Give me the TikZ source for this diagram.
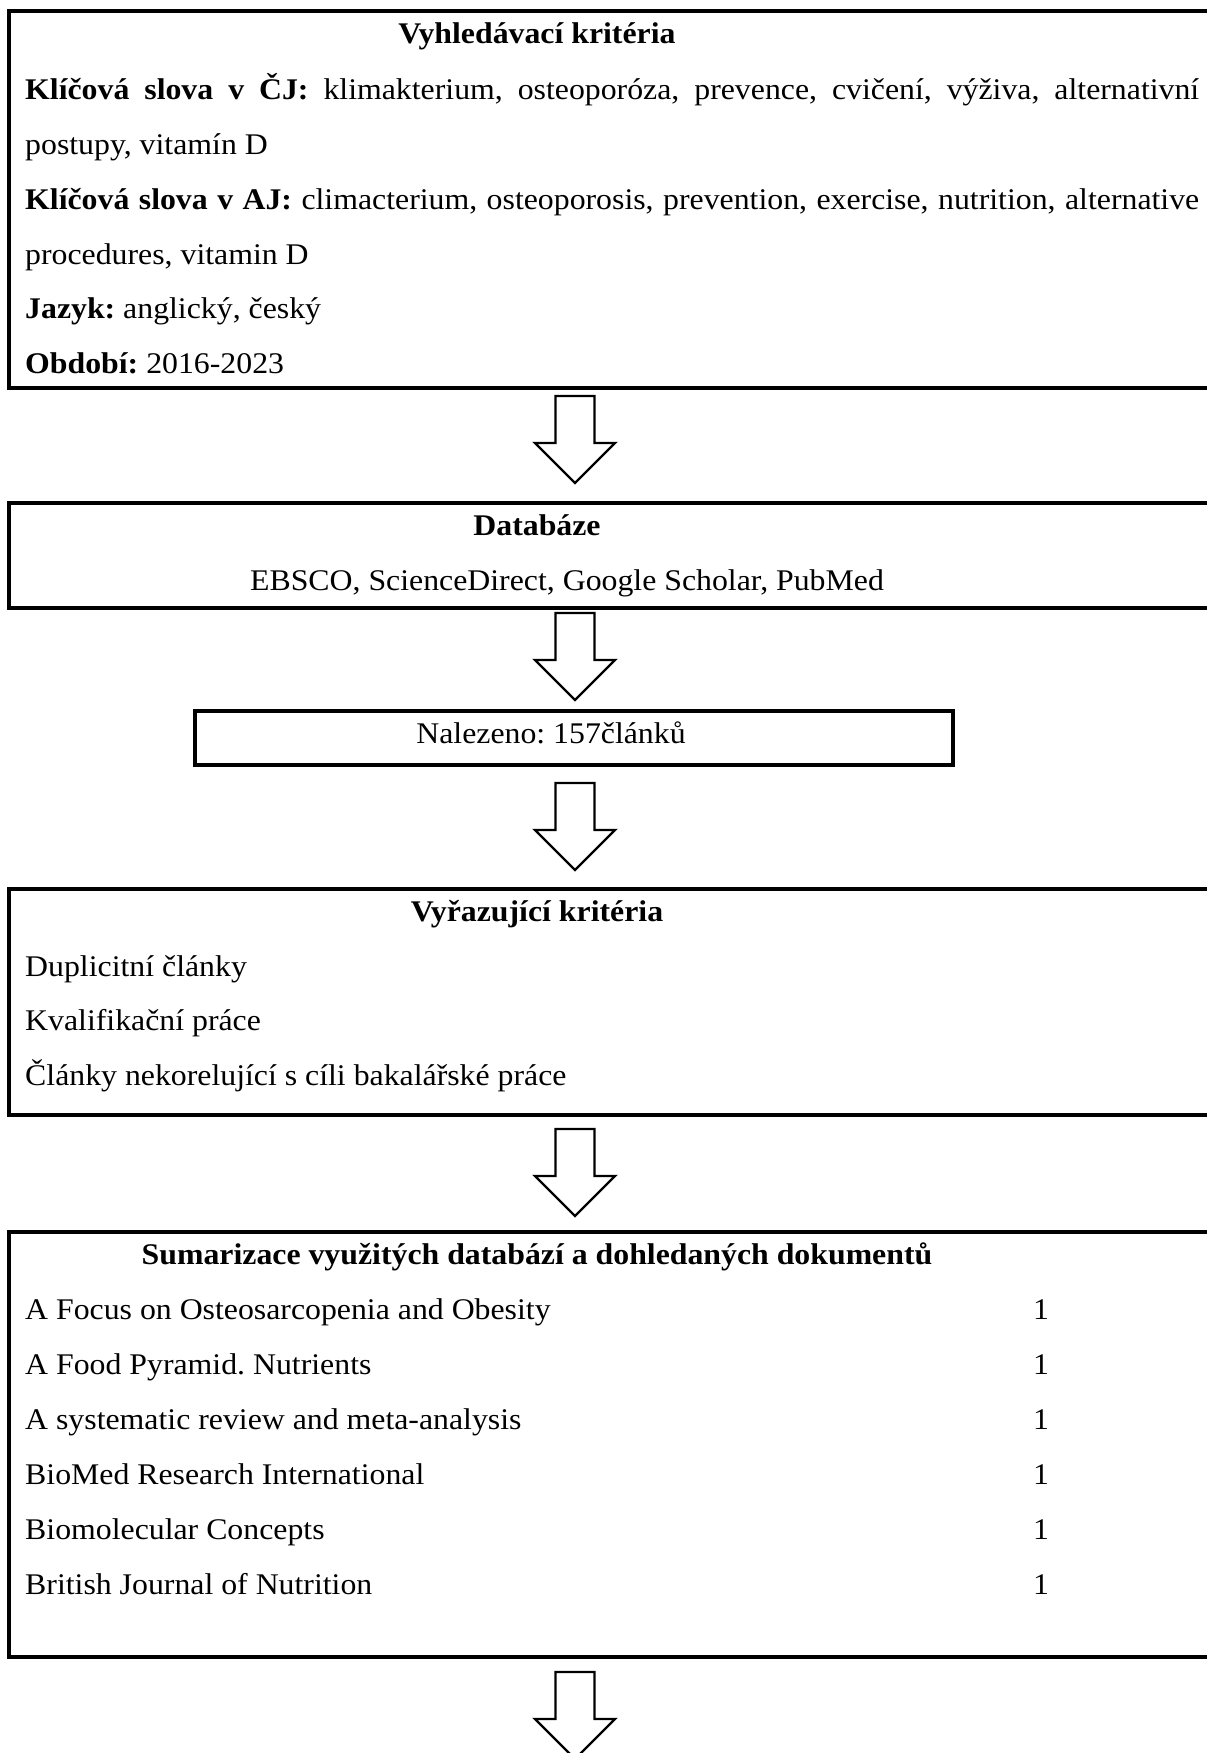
\documentclass[tikz,border=0pt]{standalone}
\usepackage{fontspec}
\setmainfont{Liberation Serif}[FakeStretch=1.06]
\frenchspacing
\tikzset{
  box/.style={draw, line width=3.3pt, outer sep=0pt, inner sep=0pt, anchor=north west},
  txt/.style={anchor=base west, inner sep=0pt, font=\fontsize{30}{36}\selectfont},
  ctxt/.style={anchor=base, inner sep=0pt, font=\fontsize{30}{36}\selectfont},
  ttl/.style={anchor=base, inner sep=0pt, font=\fontsize{30}{36}\selectfont\bfseries},
  blockarrow/.pic={\draw[line width=2.4pt, line join=miter]
     (-19.5,0) -- (19.5,0) -- (19.5,47) -- (40,47) -- (0,87) -- (-40,47) -- (-19.5,47) -- cycle;}
}
\begin{document}
\begin{tikzpicture}[x=1pt,y=-1pt]
\useasboundingbox (0,0) rectangle (1207,1753);
\clip (0,0) rectangle (1207,1753);
% box 1
\node[box, minimum width=1230pt, minimum height=377pt] (crit) at (9,11) {};
\node[ttl] (critT) at (537,43.5) {Vyhledávací kritéria};
\node[txt] (c1) at (25,99.5) {\makebox[1174pt][s]{\textbf{Klíčová slova v ČJ:} klimakterium, osteoporóza, prevence, cvičení, výživa, alternativní}};
\node[txt] (c2) at (25,154) {postupy, vitamín D};
\node[txt] (c3) at (25,209) {\makebox[1174pt][s]{\textbf{Klíčová slova v AJ:} climacterium, osteoporosis, prevention, exercise, nutrition, alternative}};
\node[txt] (c4) at (25,264) {procedures, vitamin D};
\node[txt] (c5) at (25,318.5) {\textbf{Jazyk:} anglický, český};
\node[txt] (c6) at (25,373) {\textbf{Období:} 2016-2023};
\pic at (575,396) {blockarrow};
% box 2
\node[box, minimum width=1230pt, minimum height=105pt] (db) at (9,503) {};
\node[ttl] (dbT) at (537,535) {Databáze};
\node[ctxt] (db1) at (567,590) {EBSCO, ScienceDirect, Google Scholar, PubMed};
\pic at (575,613) {blockarrow};
% box 3
\node[box, minimum width=758pt, minimum height=54pt] (found) at (195,711) {};
\node[ctxt] (foundT) at (551,743) {Nalezeno: 157článků};
\pic at (575,783) {blockarrow};
% box 4
\node[box, minimum width=1230pt, minimum height=226pt] (excl) at (9,889) {};
\node[ttl] (exclT) at (537,921) {Vyřazující kritéria};
\node[txt] (e1) at (25,976) {Duplicitní články};
\node[txt] (e2) at (25,1030.5) {Kvalifikační práce};
\node[txt] (e3) at (25,1085.5) {Články nekorelující s cíli bakalářské práce};
\pic at (575,1129) {blockarrow};
% box 5
\node[box, minimum width=1230pt, minimum height=425pt] (sum) at (9,1232) {};
\node[ttl] (sumT) at (537,1264) {Sumarizace využitých databází a dohledaných dokumentů};
\node[txt] (s1) at (25,1319) {A Focus on Osteosarcopenia and Obesity};
\node[txt] (s2) at (25,1374) {A Food Pyramid. Nutrients};
\node[txt] (s3) at (25,1429) {A systematic review and meta-analysis};
\node[txt] (s4) at (25,1484) {BioMed Research International};
\node[txt] (s5) at (25,1539) {Biomolecular Concepts};
\node[txt] (s6) at (25,1594) {British Journal of Nutrition};
\node[ctxt] (n1) at (1041,1319) {1};
\node[ctxt] (n2) at (1041,1374) {1};
\node[ctxt] (n3) at (1041,1429) {1};
\node[ctxt] (n4) at (1041,1484) {1};
\node[ctxt] (n5) at (1041,1539) {1};
\node[ctxt] (n6) at (1041,1594) {1};
\pic at (575,1672) {blockarrow};
\end{tikzpicture}
\end{document}
